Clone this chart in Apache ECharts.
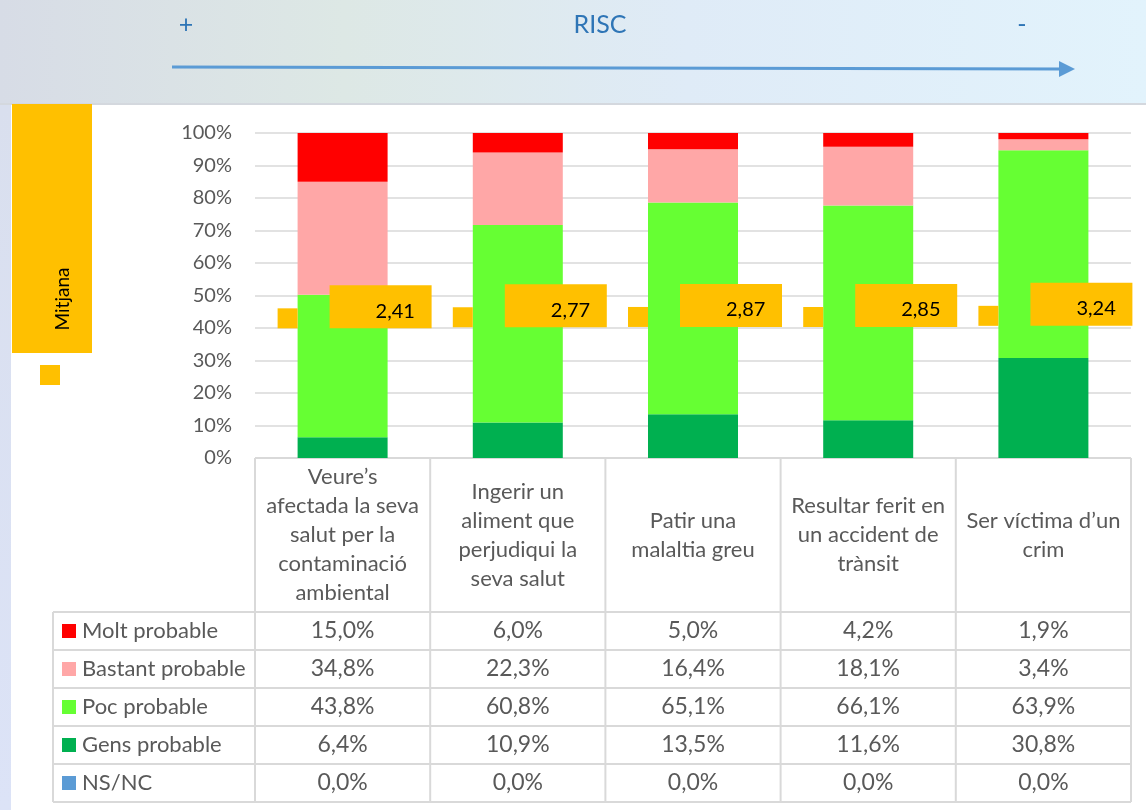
<!DOCTYPE html>
<html><head><meta charset="utf-8">
<script src="https://cdn.jsdelivr.net/npm/echarts@6/dist/echarts.min.js"></script>
<style>html,body{margin:0;padding:0;background:#fff}#c{width:1146px;height:810px}</style>
</head><body><div id="c"></div>
<script>
const categories = [
  "Veure’s\nafectada la seva\nsalut per la\ncontaminació\nambiental",
  "Ingerir un\naliment que\nperjudiqui la\nseva salut",
  "Patir una\nmalaltia greu",
  "Resultar ferit en\nun accident de\ntrànsit",
  "Ser víctima d’un\ncrim"
];
const seriesNames = ["Molt probable", "Bastant probable", "Poc probable", "Gens probable", "NS/NC"];
const molt = [15.0, 6.0, 5.0, 4.2, 1.9];
const bastant = [34.8, 22.3, 16.4, 18.1, 3.4];
const poc = [43.8, 60.8, 65.1, 66.1, 63.9];
const gens = [6.4, 10.9, 13.5, 11.6, 30.8];
const nsnc = [0.0, 0.0, 0.0, 0.0, 0.0];
const mitjana = [2.41, 2.77, 2.87, 2.85, 3.24];
const yTickStep = 10;

const colors = {"Molt probable":"#FF0000","Bastant probable":"#FFA7A7","Poc probable":"#66FF33","Gens probable":"#00B050","NS/NC":"#5B9BD5"};
const valuesByName = {"Molt probable":molt,"Bastant probable":bastant,"Poc probable":poc,"Gens probable":gens,"NS/NC":nsnc};
const FONT = 'Lato, "Noto Sans", sans-serif';
const GRAY = '#595959';
const LINE = '#D9D9D9';
const fmt = v => v.toFixed(1).replace('.', ',') + '%';

const chart = echarts.init(document.getElementById('c'), null, {renderer:'canvas'});

const stackOrder = ["Gens probable","Poc probable","Bastant probable","Molt probable","NS/NC"];
const barSeries = stackOrder.map(n => ({
  name: n, type: 'bar', stack: 'tot', barWidth: 90,
  data: valuesByName[n], itemStyle: {color: colors[n]}, z: 2
}));

const option = {
  animation: false,
  backgroundColor: '#ffffff',
  textStyle: {fontFamily: FONT},
  grid: {left: 255, right: 15, top: 133, bottom: 352, containLabel: false},
  xAxis: {
    type: 'category', data: categories,
    axisLine: {show: false}, axisTick: {show: false},
    axisLabel: {interval: 0, fontSize: 22, lineHeight: 29, color: GRAY, margin: 77,
      verticalAlign: 'middle', fontFamily: FONT}
  },
  yAxis: [{
    type: 'value', min: 0, max: 100, interval: yTickStep,
    axisLabel: {formatter: '{value}%', fontSize: 20, color: GRAY, margin: 23, fontFamily: FONT},
    axisLine: {show: false}, axisTick: {show: false},
    splitLine: {lineStyle: {color: LINE, width: 1.5}}
  }, {
    type: 'value', min: -44, max: 64, show: false
  }],
  series: barSeries.concat([{
    name: 'Mitjana', type: 'scatter', yAxisIndex: 1, data: mitjana, z: 10,
    symbol: 'rect', symbolSize: 20, symbolOffset: [-55, 0],
    itemStyle: {color: '#FFC000', opacity: 1},
    emphasis: {disabled: true},
    label: {show: true, position: [52, -23], align: 'left', verticalAlign: 'top',
      formatter: p => p.value.toFixed(2).replace('.', ','),
      backgroundColor: '#FFC000', width: 56, height: 34, lineHeight: 34,
      padding: [9, 0, 0, 46], color: '#000', fontSize: 20, fontFamily: FONT}
  }])
};
chart.setOption(option);

// graphic decorations and data table
const g = [];
g.push({type:'rect', shape:{x:0,y:0,width:1146,height:104}, z:-10,
  style:{fill:new echarts.graphic.LinearGradient(0,0,1,0,[
    {offset:0,color:'#D7DCE6'},{offset:0.3,color:'#DDE8E5'},{offset:0.6,color:'#DFEBF7'},{offset:1,color:'#E2F3FC'}])}});
g.push({type:'line', shape:{x1:0,y1:104,x2:1146,y2:104}, style:{stroke:'#D4D8DE', lineWidth:2}, z:-9});
g.push({type:'rect', shape:{x:0,y:105,width:11,height:705}, z:-10,
  style:{fill:new echarts.graphic.LinearGradient(0,0,0,1,[
    {offset:0,color:'#D9DFEE'},{offset:1,color:'#DCE3F7'}])}});
const hdrStyle = {fill:'#2E75B6', font:'25px ' + FONT, textAlign:'center', textVerticalAlign:'middle'};
g.push({type:'text', x:186, y:25, style:Object.assign({text:'+'}, hdrStyle)});
g.push({type:'text', x:600, y:25, style:Object.assign({text:'RISC'}, hdrStyle)});
g.push({type:'text', x:1022, y:25, style:Object.assign({text:'-'}, hdrStyle)});
g.push({type:'line', shape:{x1:172,y1:67,x2:1062,y2:69}, style:{stroke:'#5B9BD5', lineWidth:3}});
g.push({type:'polygon', shape:{points:[[1059,61],[1075,69],[1059,77]]}, style:{fill:'#5B9BD5'}});
g.push({type:'rect', shape:{x:12,y:104,width:80,height:249}, style:{fill:'#FFC000'}});
g.push({type:'text', x:63, y:299, rotation:Math.PI/2,
  style:{text:'Mitjana', fill:'#000', font:'19px ' + FONT, textAlign:'center', textVerticalAlign:'middle'}});
g.push({type:'rect', shape:{x:40,y:365,width:20,height:20}, style:{fill:'#FFC000'}});

const centers = categories.map((c, i) => chart.convertToPixel({xAxisIndex:0}, i));
const band = centers.length > 1 ? centers[1] - centers[0] : 175;
const xs = centers.map(c => c - band/2).concat([centers[centers.length-1] + band/2]);
const yTop = chart.convertToPixel({yAxisIndex:0}, 0);
const headerBottom = 612, rowH = 38, tableLeft = 53;
const nRows = seriesNames.length;
const tableBottom = headerBottom + rowH * nRows;
const ls = {stroke: LINE, lineWidth: 2};
g.push({type:'line', shape:{x1:xs[0],y1:yTop,x2:xs[xs.length-1],y2:yTop}, style:ls});
xs.forEach(x => g.push({type:'line', shape:{x1:x,y1:yTop,x2:x,y2:tableBottom}, style:ls}));
g.push({type:'line', shape:{x1:tableLeft,y1:headerBottom,x2:tableLeft,y2:tableBottom}, style:ls});
for (let r = 0; r <= nRows; r++) {
  const y = headerBottom + r * rowH;
  g.push({type:'line', shape:{x1:tableLeft,y1:y,x2:xs[xs.length-1],y2:y}, style:ls});
}
seriesNames.forEach((n, r) => {
  const cy = headerBottom + r * rowH + rowH/2;
  g.push({type:'rect', shape:{x:62,y:cy-7,width:14,height:14}, style:{fill:colors[n]}});
  g.push({type:'text', x:82, y:cy, style:{text:n, fill:GRAY, font:'22px ' + FONT, textAlign:'left', textVerticalAlign:'middle'}});
  valuesByName[n].forEach((v, i) => {
    g.push({type:'text', x:centers[i], y:cy, style:{text:fmt(v), fill:GRAY, font:'23px ' + FONT, textAlign:'center', textVerticalAlign:'middle'}});
  });
});
chart.setOption({graphic: g});
</script>
</body></html>
